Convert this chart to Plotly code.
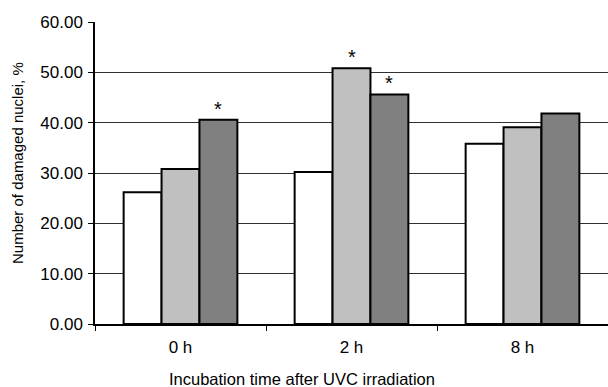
import plotly.graph_objects as go

categories = ["0 h", "2 h", "8 h"]
series_white = [26.2, 30.2, 35.8]
series_light = [30.8, 50.8, 39.1]
series_dark = [40.6, 45.6, 41.8]
y_ticks = [0, 10, 20, 30, 40, 50, 60]
# asterisks: (series index, category index)
stars = [(2, 0), (1, 1), (2, 1)]

bargap = 0.335
bw = (1 - bargap) / 3
all_series = [series_white, series_light, series_dark]
colors = ["#ffffff", "#c0c0c0", "#808080"]

W, H = 608, 387
ML, MR, MT, MB = 95, 0, 22, 63

fig = go.Figure()
for vals, col in zip(all_series, colors):
    fig.add_trace(go.Bar(x=categories, y=vals, marker=dict(color=col, line=dict(color="black", width=2)),
                         showlegend=False, hoverinfo="skip"))

for s, c in stars:
    fig.add_annotation(x=c + (s - 1) * bw, y=all_series[s][c], xref="x", yref="y", text="*",
                       showarrow=False, yshift=11, font=dict(size=20, color="black", family="Liberation Sans"))

pw = W - ML - MR
ph = H - MT - MB
# axis titles placed as annotations
fig.add_annotation(text="Number of damaged nuclei, %", textangle=-90, showarrow=False,
                   xref="paper", yref="paper", x=(17 - ML) / pw, y=(MT + ph - 163) / ph,
                   xanchor="center", yanchor="middle",
                   font=dict(size=15, color="black"))
fig.add_annotation(text="Incubation time after UVC irradiation", showarrow=False,
                   xref="paper", yref="paper", x=(302 - ML) / pw, y=-(379 - (MT + ph)) / ph,
                   xanchor="center", yanchor="middle", font=dict(size=16.5, color="black"))

fig.update_layout(
    width=W, height=H,
    margin=dict(l=ML, r=MR, t=MT, b=MB),
    plot_bgcolor="white", paper_bgcolor="white",
    barmode="group", bargap=bargap, bargroupgap=0,
    font=dict(family="Liberation Sans, Arial", color="black", size=17),
)
fig.update_xaxes(
    automargin=False,
    showline=True, linecolor="black", linewidth=1.5,
    ticks="outside", tickson="boundaries", ticklen=5, tickcolor="black",
    ticklabelstandoff=7,
    showgrid=False,
)
fig.update_yaxes(
    automargin=False,
    range=[0, 60], tickvals=y_ticks, tickformat=".2f",
    showline=True, linecolor="black", linewidth=1.5,
    ticks="outside", ticklen=5, tickcolor="black",
    ticklabelstandoff=2,
    showgrid=True, gridcolor="#303030", gridwidth=1,
    zeroline=False,
)
fig.write_html("out.html", config={"displayModeBar": False},
               post_script="document.body.style.margin='0';")
